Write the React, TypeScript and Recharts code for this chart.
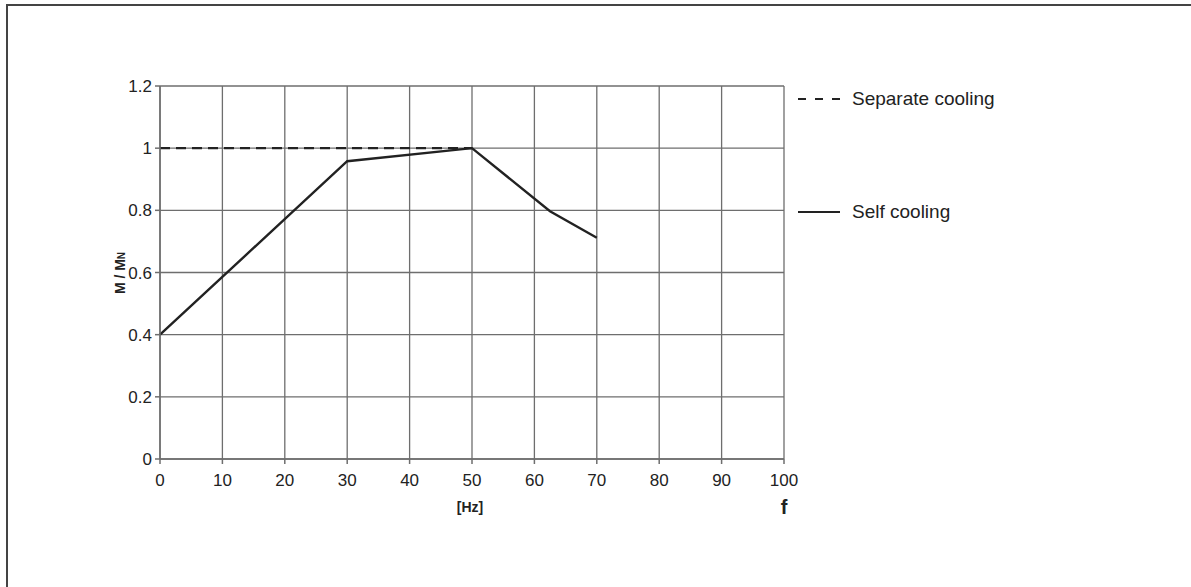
import { LineChart, Line, XAxis, YAxis, CartesianGrid } from 'recharts';

const freqs = [0, 30, 50, 62.5, 70];
const selfCooling = [0.4, 0.958, 1.0, 0.797, 0.712];
const separateFreqs = [0, 50];
const separateCooling = [1.0, 1.0];

const xTicks = [0, 10, 20, 30, 40, 50, 60, 70, 80, 90, 100];
const yTicks = [0, 0.2, 0.4, 0.6, 0.8, 1, 1.2];

const seriesNames = ['Separate cooling', 'Self cooling'];

const FONT = '"Liberation Sans", Arial, sans-serif';
const GRID = '#6e6e6e';
const INK = '#222';

const selfData = freqs.map((f, i) => ({ f, v: selfCooling[i] }));
const sepData = separateFreqs.map((f, i) => ({ f, v: separateCooling[i] }));

// legend drawn beside the plot, like the original
function LegendBox() {
  return (
    <div style={{ position: 'absolute', left: 798, top: 87, fontFamily: FONT, color: INK, fontSize: 19 }}>
      <div style={{ display: 'flex', alignItems: 'center', height: 24 }}>
        <svg width={54} height={10}>
          <line x1={0} y1={5} x2={44} y2={5} stroke={INK} strokeWidth={2.2} strokeDasharray="8 9" />
        </svg>
        <span>{seriesNames[0]}</span>
      </div>
      <div style={{ display: 'flex', alignItems: 'center', height: 24, marginTop: 89 }}>
        <svg width={54} height={10}>
          <line x1={0} y1={5} x2={42} y2={5} stroke={INK} strokeWidth={2.2} />
        </svg>
        <span>{seriesNames[1]}</span>
      </div>
    </div>
  );
}

export default function App() {
  return (
    <div style={{ position: 'fixed', inset: 0, overflow: 'hidden', background: '#fff' }}>
      <div
        style={{
          position: 'absolute',
          left: 6,
          top: 4,
          width: 1400,
          height: 800,
          borderLeft: '2px solid #444',
          borderTop: '2px solid #444',
        }}
      />
      <div style={{ position: 'absolute', left: 0, top: 0 }}>
        <LineChart
          width={1191}
          height={587}
          margin={{ top: 86, right: 407, bottom: 98, left: 100 }}
        >
          <CartesianGrid stroke={GRID} strokeWidth={1.3} />
          <XAxis
            type="number"
            dataKey="f"
            domain={[0, 100]}
            ticks={xTicks}
            height={30}
            stroke={GRID}
            strokeWidth={1.5}
            tickSize={5}
            tickMargin={10}
            tick={{ fill: INK, fontSize: 17, fontFamily: FONT }}
            label={{
              content: () => (
                <g fontFamily={FONT} fill={INK} fontWeight="bold">
                  <text x={470} y={512} fontSize={14} textAnchor="middle">[Hz]</text>
                  <text x={784} y={514} fontSize={20} textAnchor="middle">f</text>
                </g>
              ),
            }}
          />
          <YAxis
            type="number"
            domain={[0, 1.2]}
            ticks={yTicks}
            width={60}
            stroke={GRID}
            strokeWidth={1.5}
            tickSize={5}
            tickMargin={3}
            tick={{ fill: INK, fontSize: 17, fontFamily: FONT }}
            label={{
              content: () => (
                <text
                  x={0}
                  y={0}
                  transform="translate(125 273) rotate(-90)"
                  textAnchor="middle"
                  fontFamily={FONT}
                  fontWeight="bold"
                  fontSize={14}
                  fill={INK}
                >
                  M / M<tspan fontSize={10}>N</tspan>
                </text>
              ),
            }}
          />
          <Line
            data={sepData}
            dataKey="v"
            stroke={INK}
            strokeWidth={2.4}
            strokeDasharray="10 6"
            dot={false}
            isAnimationActive={false}
          />
          <Line
            data={selfData}
            dataKey="v"
            stroke={INK}
            strokeWidth={2.4}
            dot={false}
            isAnimationActive={false}
          />
        </LineChart>
      </div>
      <LegendBox />
    </div>
  );
}
